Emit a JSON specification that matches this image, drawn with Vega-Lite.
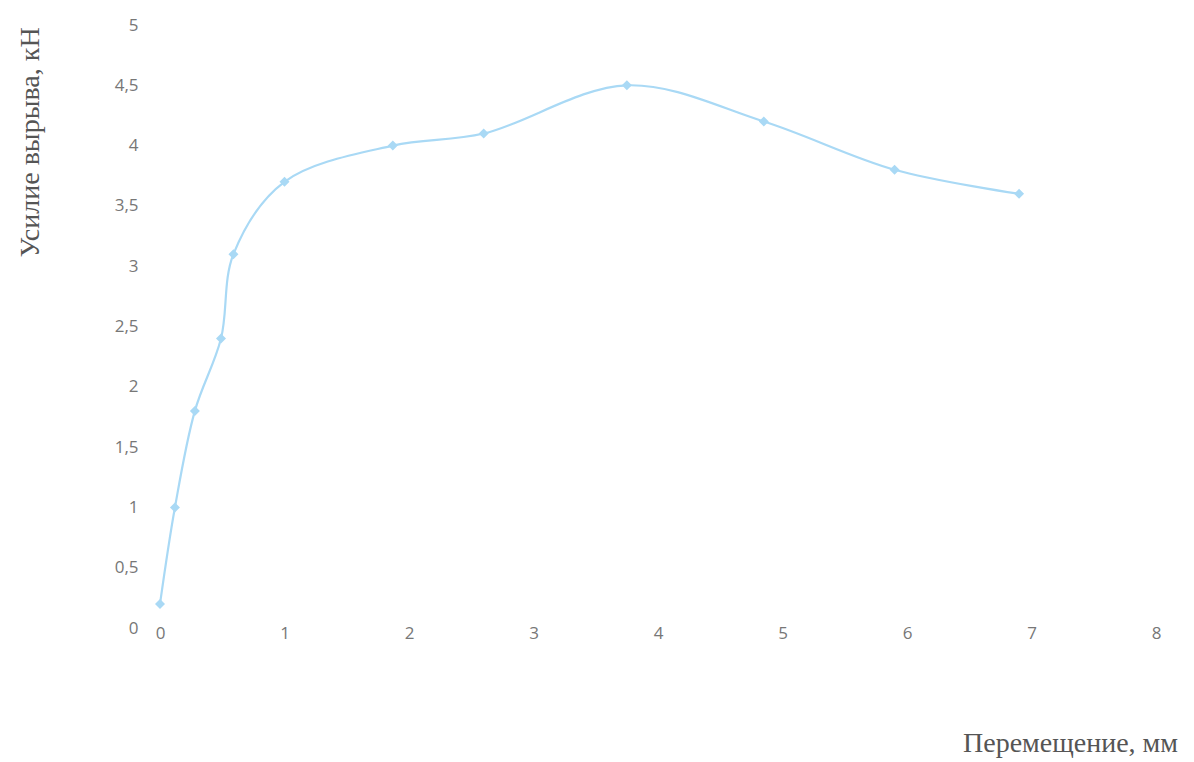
{
  "$schema": "https://vega.github.io/schema/vega-lite/v6.json",
  "width": 996,
  "height": 603,
  "autosize": {"type": "none"},
  "padding": {"left": 160, "top": 25, "right": 38, "bottom": 134},
  "background": "white",
  "config": {"view": {"stroke": null}},
  "data": {"values": [
    {"x": 0, "y": 0.2},
    {"x": 0.12, "y": 1.0},
    {"x": 0.28, "y": 1.8},
    {"x": 0.49, "y": 2.4},
    {"x": 0.59, "y": 3.1},
    {"x": 1.0, "y": 3.7},
    {"x": 1.87, "y": 4.0},
    {"x": 2.6, "y": 4.1},
    {"x": 3.75, "y": 4.5},
    {"x": 4.85, "y": 4.2},
    {"x": 5.9, "y": 3.8},
    {"x": 6.9, "y": 3.6}
  ]},
  "mark": {"type": "line", "interpolate": "catmull-rom", "color": "#a9d9f5", "strokeWidth": 2.2,
    "point": {"shape": "diamond", "filled": true, "size": 100, "color": "#a9d9f5"}},
  "encoding": {
    "x": {"field": "x", "type": "quantitative",
      "scale": {"domain": [0, 8], "nice": false, "zero": false},
      "axis": {"values": [0,1,2,3,4,5,6,7,8], "grid": false, "domain": false, "ticks": false,
        "labelFlush": false, "labelOverlap": false,
        "labelPadding": -3, "labelFontSize": 17, "labelColor": "#777", "labelFont": "Open Sans",
        "title": "Перемещение, мм", "titleFont": "Liberation Serif", "titleFontSize": 28,
        "titleFontWeight": "normal", "titleColor": "#555", "titleX": 910, "titleY": 115,
        "titleAlign": "center", "titleBaseline": "middle"}},
    "y": {"field": "y", "type": "quantitative",
      "scale": {"domain": [0, 5], "nice": false},
      "axis": {"values": [0,0.5,1,1.5,2,2.5,3,3.5,4,4.5,5], "format": ".1~f", "grid": false, "domain": false, "ticks": false,
        "labelFlush": false, "labelOverlap": false,
        "labelPadding": 22, "labelFontSize": 17, "labelColor": "#777", "labelFont": "Open Sans",
        "labelExpr": "replace(datum.label, '.', ',')",
        "title": "Усилие вырыва, кН", "titleFont": "Liberation Serif", "titleFontSize": 28,
        "titleFontWeight": "normal", "titleColor": "#555", "titleAngle": -90,
        "titleX": -130, "titleY": 117, "titleAlign": "center", "titleBaseline": "middle"}}
  }
}
